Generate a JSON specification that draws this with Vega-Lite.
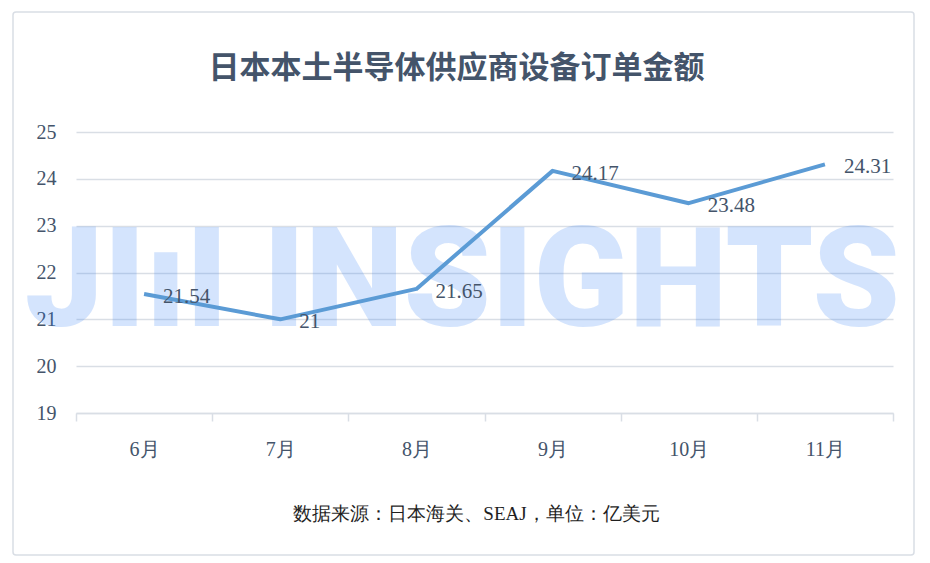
{
  "$schema": "https://vega.github.io/schema/vega-lite/v6.json",
  "description": "日本本土半导体供应商设备订单金额 line chart",
  "width": 817,
  "height": 281,
  "autosize": {"type": "none"},
  "padding": {"left": 76, "top": 132, "right": 37, "bottom": 150},
  "background": "#FFFFFF",
  "config": {
    "view": {"stroke": null},
    "font": "Liberation Serif"
  },
  "title": {
    "text": "日本本土半导体供应商设备订单金额",
    "anchor": "middle",
    "frame": "group",
    "dx": -28,
    "offset": -98,
    "baseline": "alphabetic",
    "font": "Noto Sans CJK SC",
    "fontSize": 31,
    "fontWeight": "bold",
    "color": "#44546A"
  },
  "datasets": {
    "orders": [
      {"month": "6月", "value": 21.54},
      {"month": "7月", "value": 21},
      {"month": "8月", "value": 21.65},
      {"month": "9月", "value": 24.17},
      {"month": "10月", "value": 23.48},
      {"month": "11月", "value": 24.31}
    ],
    "mark": [
      {"month": "8月", "value": 21, "label": "JIıI INSIGHTS"}
    ]
  },
  "encoding": {
    "x": {
      "field": "month",
      "type": "nominal",
      "sort": null,
      "scale": {
        "type": "band",
        "domain": ["6月", "7月", "8月", "9月", "10月", "11月"],
        "paddingInner": 0,
        "paddingOuter": 0
      },
      "axis": {
        "title": "数据来源：日本海关、SEAJ，单位：亿美元",
        "titleFont": "Liberation Serif",
        "titleFontSize": 19,
        "titleFontWeight": "normal",
        "titleColor": "#1F1F1F",
        "titlePadding": 45,
        "titleX": 400,
        "labelAngle": 0,
        "labelFont": "Liberation Serif",
        "labelFontSize": 20,
        "labelColor": "#44546A",
        "labelPadding": 18,
        "tickBand": "extent",
        "tickSize": 8,
        "tickColor": "#D9DEE5",
        "tickWidth": 1.5,
        "domainColor": "#D9DEE5",
        "domainWidth": 1.5,
        "grid": false
      }
    },
    "y": {
      "field": "value",
      "type": "quantitative",
      "scale": {"domain": [19, 25], "nice": false, "zero": false},
      "axis": {
        "title": null,
        "values": [19, 20, 21, 22, 23, 24, 25],
        "labelFont": "Liberation Serif",
        "labelFontSize": 20,
        "labelColor": "#44546A",
        "labelPadding": 20,
        "ticks": false,
        "domain": false,
        "grid": true,
        "gridColor": "#D9DEE5",
        "gridWidth": 1.5
      }
    }
  },
  "layer": [
    {
      "data": {"values": [{}]},
      "mark": {
        "type": "rect",
        "x": {"expr": "-63"},
        "y": {"expr": "-120"},
        "x2": {"expr": "width + 21"},
        "y2": {"expr": "height + 142"},
        "fill": null,
        "stroke": "#D9DEE5",
        "strokeWidth": 1.5,
        "cornerRadius": 3,
        "clip": false
      },
      "encoding": {"x": null, "y": null}
    },
    {
      "data": {"name": "mark"},
      "mark": {
        "type": "text",
        "font": "Roboto",
        "fontWeight": 900,
        "fontSize": 140,
        "align": "center",
        "baseline": "alphabetic",
        "dx": -22,
        "dy": 7,
        "color": "#2E7CF6",
        "opacity": 0.2
      },
      "encoding": {
        "x": {"field": "month", "type": "nominal", "bandPosition": 1},
        "text": {"field": "label"}
      }
    },
    {
      "data": {"name": "orders"},
      "mark": {
        "type": "line",
        "color": "#5B9BD5",
        "strokeWidth": 4,
        "strokeJoin": "round"
      }
    },
    {
      "data": {"name": "orders"},
      "mark": {
        "type": "text",
        "align": "left",
        "baseline": "middle",
        "dx": 19,
        "dy": 3,
        "font": "Liberation Serif",
        "fontSize": 21,
        "color": "#44546A"
      },
      "encoding": {
        "text": {"field": "value", "type": "nominal"}
      }
    }
  ]
}
